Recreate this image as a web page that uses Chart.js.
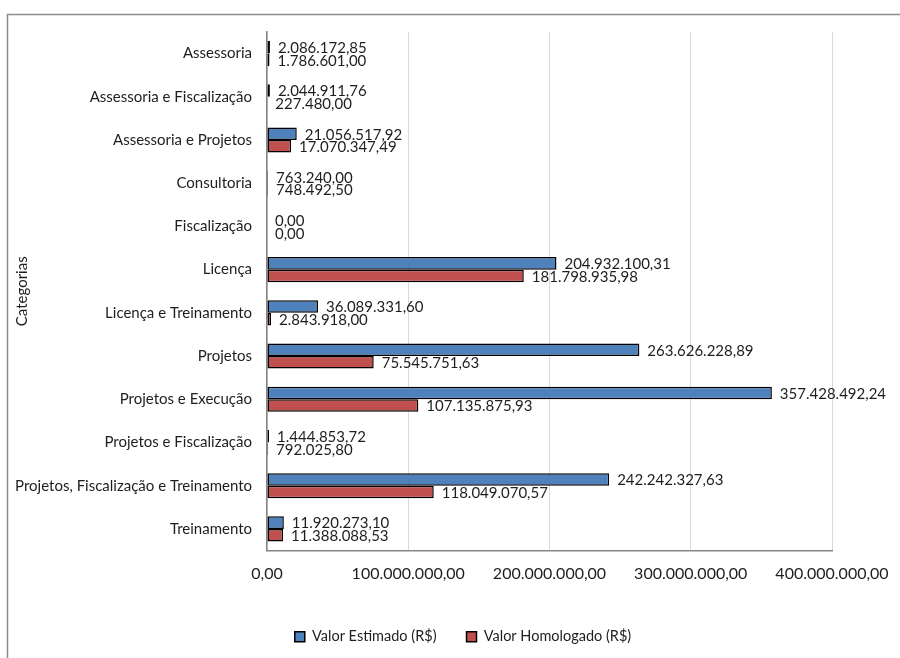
<!DOCTYPE html>
<html lang="pt-BR">
<head>
<meta charset="utf-8">
<title>Valor Estimado x Valor Homologado por Categoria</title>
<script src="https://cdn.jsdelivr.net/npm/chart.js@4/dist/chart.umd.min.js"></script>
<style>
    html, body { margin: 0; padding: 0; background: #fff; }
    #wrap { width: 900px; height: 658px; position: relative; }
</style>
</head>
<body>
<div id="wrap"><canvas id="grafico"></canvas></div>
<script>
// Categorias e valores (R$)
const categorias = [
    'Assessoria',
    'Assessoria e Fiscalização',
    'Assessoria e Projetos',
    'Consultoria',
    'Fiscalização',
    'Licença',
    'Licença e Treinamento',
    'Projetos',
    'Projetos e Execução',
    'Projetos e Fiscalização',
    'Projetos, Fiscalização e Treinamento',
    'Treinamento'
];

const valorEstimado = [
    2086172.85, 2044911.76, 21056517.92, 763240.00, 0.00, 204932100.31,
    36089331.60, 263626228.89, 357428492.24, 1444853.72, 242242327.63, 11920273.10
];

const valorHomologado = [
    1786601.00, 227480.00, 17070347.49, 748492.50, 0.00, 181798935.98,
    2843918.00, 75545751.63, 107135875.93, 792025.80, 118049070.57, 11388088.53
];

const ticksX = [0, 100000000, 200000000, 300000000, 400000000];

const FONTE = 'Lato, "Open Sans", sans-serif';
const COR_TEXTO = '#1e1e1e';

// formato brasileiro: 1.234.567,89
function formatarBR(v) {
    const partes = Math.abs(v).toFixed(2).split('.');
    const inteiro = partes[0].replace(/\B(?=(\d{3})+(?!\d))/g, '.');
    return (v < 0 ? '-' : '') + inteiro + ',' + partes[1];
}

// moldura cinza (topo e esquerda)
const moldura = {
    id: 'moldura',
    beforeDraw(chart) {
        const ctx = chart.ctx;
        ctx.save();
        ctx.strokeStyle = '#8c8c8c';
        ctx.lineWidth = 1.5;
        ctx.beginPath();
        ctx.moveTo(7.5, 660);
        ctx.lineTo(7.5, 14.5);
        ctx.lineTo(900, 14.5);
        ctx.stroke();
        ctx.restore();
    }
};

// legenda centralizada um pouco mais à direita
const posLegenda = {
    id: 'posLegenda',
    afterLayout(chart) {
        if (chart.legend) {
            chart.legend.left = 26;
            chart.legend.right = 900;
        }
    }
};

// rótulos de valor à direita de cada barra
const rotulos = {
    id: 'rotulos',
    afterDatasetsDraw(chart) {
        const ctx = chart.ctx;
        ctx.save();
        ctx.font = '15px ' + FONTE;
        ctx.fillStyle = COR_TEXTO;
        ctx.textAlign = 'left';
        ctx.textBaseline = 'middle';
        chart.data.datasets.forEach((ds, i) => {
            const meta = chart.getDatasetMeta(i);
            meta.data.forEach((bar, j) => {
                ctx.fillText(formatarBR(ds.data[j]), bar.x + 8, bar.y + 1);
            });
        });
        ctx.restore();
    }
};

new Chart(document.getElementById('grafico'), {
    type: 'bar',
    data: {
        labels: categorias,
        datasets: [
            {
                label: 'Valor Estimado (R$)',
                data: valorEstimado,
                backgroundColor: '#4F81BD',
                borderColor: '#000',
                borderWidth: 1.5,
                borderSkipped: false,
                categoryPercentage: 0.58,
                barPercentage: 1.0
            },
            {
                label: 'Valor Homologado (R$)',
                data: valorHomologado,
                backgroundColor: '#C0504D',
                borderColor: '#000',
                borderWidth: 1.5,
                borderSkipped: false,
                categoryPercentage: 0.58,
                barPercentage: 1.0
            }
        ]
    },
    options: {
        indexAxis: 'y',
        responsive: true,
        maintainAspectRatio: false,
        animation: false,
        layout: { padding: { left: 8, top: 32, right: 68, bottom: 4 } },
        plugins: {
            legend: {
                position: 'bottom',
                labels: {
                    font: { family: FONTE, size: 14.5 },
                    color: COR_TEXTO,
                    boxWidth: 10,
                    boxHeight: 10,
                    padding: 30,
                    useBorderRadius: false
                }
            },
            tooltip: { enabled: false }
        },
        scales: {
            x: {
                min: 0,
                max: 400000000,
                afterBuildTicks(scale) {
                    scale.ticks = ticksX.map(v => ({ value: v }));
                },
                afterFit(scale) {
                    scale.height = 49;
                    scale.paddingRight = 0;
                },
                grid: { color: '#d9d9d9', lineWidth: 1, drawTicks: false },
                border: { color: '#868686', width: 1.5 },
                ticks: {
                    padding: 14,
                    font: { family: FONTE, size: 16 },
                    color: COR_TEXTO,
                    maxRotation: 0,
                    callback: v => formatarBR(v)
                }
            },
            y: {
                afterFit(scale) { scale.width = 259; },
                grid: { display: false, drawTicks: false },
                border: { color: '#868686', width: 1.5 },
                ticks: {
                    padding: 15,
                    font: { family: FONTE, size: 15 },
                    color: COR_TEXTO
                },
                title: {
                    display: true,
                    text: 'Categorias',
                    font: { family: FONTE, size: 15 },
                    color: COR_TEXTO,
                    padding: { top: 5, bottom: 0 }
                }
            }
        }
    },
    plugins: [moldura, posLegenda, rotulos]
});
</script>
</body>
</html>
